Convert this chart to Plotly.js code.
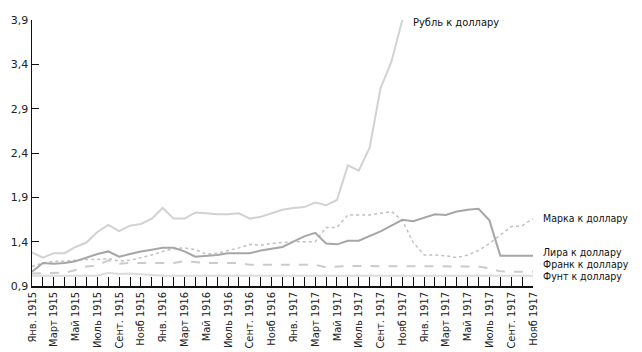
<!DOCTYPE html>
<html>
<head>
<meta charset="utf-8">
<script src="https://cdn.plot.ly/plotly-3.0.1.min.js"></script>
<style>
html,body{margin:0;padding:0;background:#fff;}
#chart{width:642px;height:352px;}
</style>
</head>
<body>
<div id="chart"></div>
<script>
// Months Jan 1915 .. Nov 1918 (47 points)
const months = [
 '1915-01','1915-02','1915-03','1915-04','1915-05','1915-06','1915-07','1915-08','1915-09','1915-10','1915-11','1915-12',
 '1916-01','1916-02','1916-03','1916-04','1916-05','1916-06','1916-07','1916-08','1916-09','1916-10','1916-11','1916-12',
 '1917-01','1917-02','1917-03','1917-04','1917-05','1917-06','1917-07','1917-08','1917-09','1917-10','1917-11','1917-12',
 '1918-01','1918-02','1918-03','1918-04','1918-05','1918-06','1918-07','1918-08','1918-09','1918-10','1918-11'
];
// Tick labels as printed in the original (every other month)
const tickLabels = [
 'Янв. 1915','Март 1915','Май 1915','Июль 1915','Сент. 1915','Нояб 1915',
 'Янв. 1916','Март 1916','Май 1916','Июль 1916','Сент. 1916','Нояб 1916',
 'Янв. 1917','Март 1917','Май 1917','Июль 1917','Сент. 1917','Нояб 1917',
 'Янв. 1917','Март 1917','Май 1917','Июль 1917','Сент. 1917','Нояб 1917'
];
const rubl = [1.28,1.22,1.27,1.27,1.34,1.39,1.51,1.59,1.52,1.58,1.60,1.66,
 1.78,1.66,1.66,1.73,1.72,1.71,1.71,1.72,1.66,1.68,1.72,1.76,
 1.78,1.79,1.84,1.81,1.87,2.26,2.20,2.46,3.13,3.43,3.90,null,
 null,null,null,null,null,null,null,null,null,null,null];
const marka = [1.12,1.16,1.18,1.18,1.19,1.20,1.20,1.21,1.18,1.19,1.22,1.25,
 1.29,1.32,1.33,1.31,1.26,1.27,1.30,1.33,1.37,1.36,1.38,1.39,
 1.40,1.40,1.40,1.56,1.56,1.70,1.70,1.70,1.72,1.74,1.64,1.39,
 1.25,1.25,1.24,1.22,1.25,1.30,1.38,1.48,1.57,1.58,1.66];
const lira = [1.06,1.16,1.15,1.16,1.18,1.22,1.26,1.29,1.23,1.26,1.29,1.31,
 1.33,1.33,1.29,1.23,1.24,1.25,1.27,1.27,1.27,1.30,1.32,1.34,
 1.40,1.46,1.50,1.38,1.37,1.41,1.41,1.46,1.515,1.58,1.647,1.63,
 1.67,1.71,1.70,1.74,1.76,1.77,1.64,1.24,1.24,1.24,1.24];
const frank = [1.04,1.045,1.05,1.05,1.08,1.12,1.13,1.19,1.15,1.16,1.16,1.16,
 1.16,1.16,1.18,1.17,1.16,1.16,1.16,1.16,1.14,1.14,1.14,1.14,
 1.14,1.14,1.14,1.11,1.12,1.125,1.125,1.125,1.125,1.125,1.125,1.125,
 1.125,1.125,1.125,1.125,1.125,1.12,1.10,1.065,1.06,1.06,1.06];
const funt = [1.015,1.015,1.015,1.015,1.015,1.015,1.015,1.05,1.035,1.04,1.035,1.025,
 1.015,1.015,1.015,1.015,1.015,1.015,1.015,1.015,1.015,1.015,1.015,1.015,
 1.015,1.015,1.015,1.015,1.015,1.015,1.015,1.015,1.015,1.015,1.015,1.015,
 1.015,1.015,1.015,1.015,1.015,1.015,1.015,1.015,1.015,1.015,1.015];
const yTicks = [0.9,1.4,1.9,2.4,2.9,3.4,3.9];

const seriesNames = ['Рубль к доллару','Марка к доллару','Лира к доллару','Франк к доллару','Фунт к доллару'];

const fontTxt = 'DejaVu Sans Condensed, DejaVu Sans, sans-serif';

const traces = [
 {x: months, y: funt, mode:'lines', line:{color:'#dcdcdc', width:2}, name: seriesNames[4]},
 {x: months, y: frank, mode:'lines', line:{color:'#cbcbcb', width:2, dash:'dash'}, name: seriesNames[3]},
 {x: months, y: marka, mode:'lines', line:{color:'#c0c0c0', width:1.5, dash:'dot'}, name: seriesNames[1]},
 {x: months, y: lira, mode:'lines', line:{color:'#a6a6a6', width:2}, name: seriesNames[2]},
 {x: months, y: rubl, mode:'lines', line:{color:'#d2d2d2', width:2}, name: seriesNames[0]}
];

const tickText = months.map((m,i) => i % 2 === 0 ? tickLabels[i/2] : '');

const annY = [3.87, 1.669, 1.283, 1.146, 1.011];
const annX = [0.758, 1.018, 1.018, 1.018, 1.018];
const annotations = seriesNames.map((n,i) => ({
  text: n, xref:'paper', yref:'y', x: annX[i], y: annY[i],
  xanchor:'left', yanchor:'middle', showarrow:false, borderpad:0,
  font:{family: fontTxt, size: i === 0 ? 11 : 10.5, color:'#111'}
}));

const layout = {
  width:642, height:352,
  margin:{l:32, r:109, t:20, b:66},
  paper_bgcolor:'#fff', plot_bgcolor:'#fff',
  showlegend:false,
  separators:',.',
  font:{family: fontTxt, size:11, color:'#111'},
  xaxis:{
    type:'category', categoryorder:'array', categoryarray: months,
    range:[0, months.length-1],
    tickmode:'array', tickvals: months, ticktext: tickText,
    tickangle:-90, ticks:'inside', ticklen:9, tickcolor:'#111', tickwidth:1,
    showline:true, linecolor:'#111', linewidth:1.5, showgrid:false, zeroline:false,
    tickfont:{family: fontTxt, size:11, color:'#222'}
  },
  yaxis:{
    range:[0.9, 3.9], tickmode:'array', tickvals: yTicks, tickformat:'.1f',
    ticks:'inside', ticklen:7, tickcolor:'#111', tickwidth:1,
    showline:true, linecolor:'#111', linewidth:1.5, showgrid:false, zeroline:false,
    tickfont:{family: 'DejaVu Sans, sans-serif', size:11, color:'#222'}
  },
  annotations: annotations
};

Plotly.newPlot('chart', traces, layout, {displayModeBar:false, staticPlot:true});
</script>
</body>
</html>
